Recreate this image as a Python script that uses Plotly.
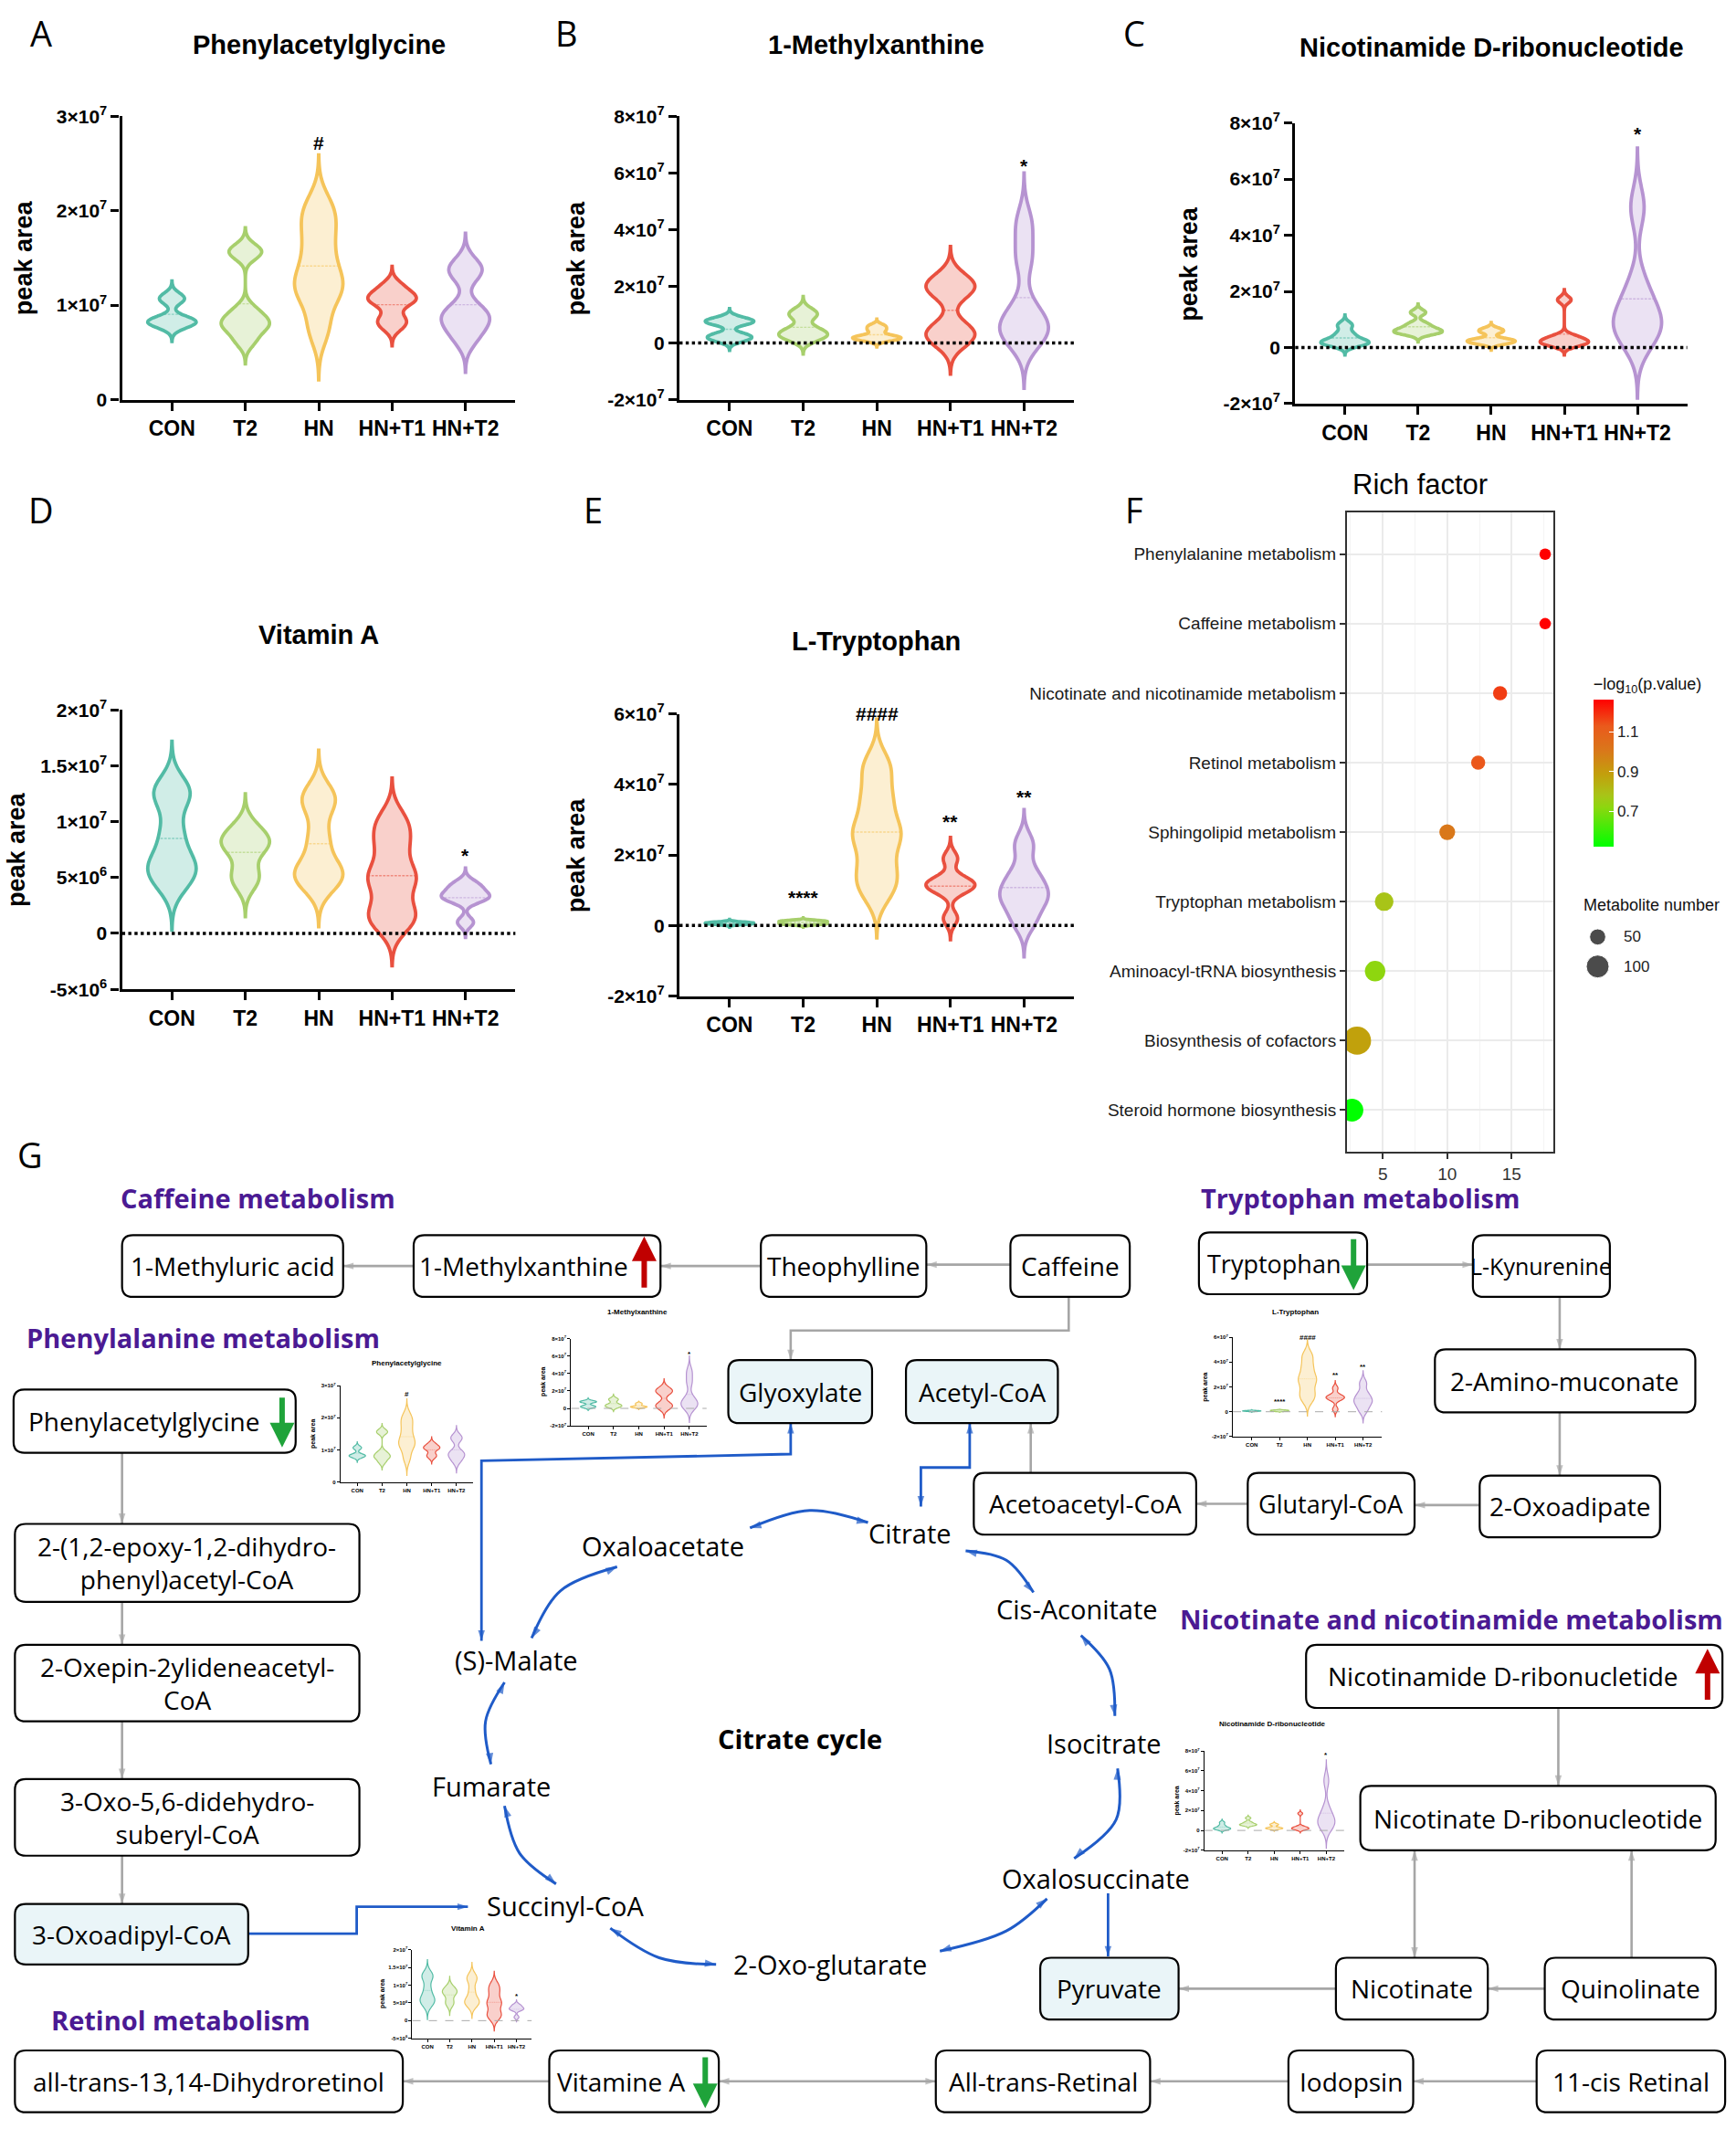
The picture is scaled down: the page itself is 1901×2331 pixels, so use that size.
import numpy as np
import plotly.graph_objects as go

# ---------------------------------------------------------------- data
GROUPS = ["CON", "T2", "HN", "HN+T1", "HN+T2"]
UNIT = 1e7  # peak areas below are in units of 1e7

phenylacetylglycine = {
    "CON": [0.78, 0.82, 0.83, 0.85, 1.05, 1.09],
    "T2": [0.62, 0.75, 0.80, 0.85, 0.95, 1.55, 1.58],
    "HN": [0.75, 1.10, 1.20, 1.35, 1.60, 1.85, 2.05],
    "HN+T1": [0.78, 0.86, 1.02, 1.07, 1.10, 1.20],
    "HN+T2": [0.65, 0.80, 0.88, 0.95, 1.35, 1.40],
}
methylxanthine = {
    "CON": [0.10, 0.20, 0.30, 0.70, 0.75, 0.85],
    "T2": [0.15, 0.25, 0.35, 0.50, 0.95, 1.10],
    "HN": [0.10, 0.15, 0.20, 0.25, 0.45, 0.60],
    "HN+T1": [0.10, 0.30, 0.50, 1.80, 2.00, 2.20],
    "HN+T2": [0.20, 0.40, 0.60, 1.20, 3.00, 4.20],
}
nicotinamide_ribonucleotide = {
    "CON": [0.10, 0.15, 0.20, 0.30, 0.50, 0.80],
    "T2": [0.50, 0.55, 0.60, 0.70, 0.85, 1.25],
    "HN": [0.15, 0.20, 0.25, 0.30, 0.55, 0.65],
    "HN+T1": [0.10, 0.15, 0.20, 0.30, 0.40, 1.70],
    "HN+T2": [0.30, 0.60, 1.00, 1.30, 2.20, 5.00],
}
vitamin_a = {
    "CON": [0.45, 0.58, 0.65, 0.90, 1.22, 1.30],
    "T2": [0.45, 0.55, 0.75, 0.80, 0.85, 0.95],
    "HN": [0.45, 0.52, 0.60, 0.85, 1.15, 1.25],
    "HN+T1": [0.10, 0.20, 0.45, 0.55, 0.80, 1.00],
    "HN+T2": [0.10, 0.30, 0.32, 0.35, 0.40, 0.45],
}
tryptophan = {
    "CON": [0.03, 0.05, 0.06, 0.07, 0.08, 0.10],
    "T2": [0.03, 0.05, 0.07, 0.10, 0.12, 0.14],
    "HN": [1.00, 1.60, 2.40, 2.80, 3.60, 4.50],
    "HN+T1": [0.20, 1.00, 1.10, 1.20, 1.30, 1.90],
    "HN+T2": [0.10, 0.60, 0.85, 1.10, 1.50, 2.30],
}

# significance marks: (group, value in 1e7 units, label)
sig_phenyl = [("HN", 2.72, "#")]
sig_methyl = [("HN+T2", 6.25, "*")]
sig_nicotinamide = [("HN+T2", 7.6, "*")]
sig_vitamin = [("HN+T2", 0.70, "*")]
sig_tryptophan = [("T2", 0.80, "****"), ("HN", 6.0, "####"),
                  ("HN+T1", 2.95, "**"), ("HN+T2", 3.65, "**")]

# enrichment (panel F)
pathways = ["Phenylalanine metabolism", "Caffeine metabolism",
            "Nicotinate and nicotinamide metabolism", "Retinol metabolism",
            "Sphingolipid metabolism", "Tryptophan metabolism",
            "Aminoacyl-tRNA biosynthesis", "Biosynthesis of cofactors",
            "Steroid hormone biosynthesis"]
rich_factor = [17.6, 17.6, 14.1, 12.4, 10.0, 5.1, 4.4, 3.0, 2.6]
neg_log10_p = [1.26, 1.26, 1.17, 1.13, 1.00, 0.78, 0.72, 0.88, 0.52]
metabolite_number = [25, 25, 38, 38, 48, 66, 80, 150, 100]
size_legend_values = [50, 100]

# ---------------------------------------------------------------- styling
W, H = 1901, 2331
SW, SH = 1280.0, 1568.0          # sketch frame used for placement
FONT = "Liberation Sans"
DFONT = "Open Sans"
GROUP_COLORS = ["#52BBA5", "#A7CF6C", "#F5C45A", "#E9503F", "#B693D1"]

# kernel bandwidths (1e7 units) used to smooth each violin
BW = {
    "phenyl": {"CON": 0.055, "T2": 0.08, "HN": 0.18, "HN+T1": 0.07, "HN+T2": 0.12},
    "methyl": {"CON": 0.12, "T2": 0.18, "HN": 0.08, "HN+T1": 0.40, "HN+T2": 0.60},
    "nicot": {"CON": 0.12, "T2": 0.10, "HN": 0.08, "HN+T1": 0.12, "HN+T2": 0.70},
    "vita": {"CON": 0.14, "T2": 0.10, "HN": 0.13, "HN+T1": 0.13, "HN+T2": 0.045},
    "tryp": {"CON": 0.025, "T2": 0.025, "HN": 0.45, "HN+T1": 0.20, "HN+T2": 0.33},
}
TAIL = 3.0  # violins extend this many bandwidths past the extreme samples


def hexa(c, a):
    c = c.lstrip("#")
    return "rgba(%d,%d,%d,%s)" % (int(c[0:2], 16), int(c[2:4], 16), int(c[4:6], 16), a)


def an(i, k):
    return k if i == 1 else "%s%d" % (k, i)


def lk(i, k):
    return "%saxis" % k if i == 1 else "%saxis%d" % (k, i)


fig = go.Figure()
layout_axes = {}
annotations = []
shapes = []

BIG = dict(lw=3.8, ml=1.4, aw=3.4, tl=9, tick=21, cat=23, sig=21, zw=3.4, ylab=27)
SMALL = dict(lw=1.2, ml=0.6, aw=1.1, tl=3, tick=6, cat=6, sig=8, zw=1.0, ylab=7)


def paper_text(xs, ys, text, size, bold=False, angle=0, color="black", family=FONT):
    annotations.append(dict(x=xs / SW, y=1 - ys / SH, xref="paper", yref="paper",
                            xanchor="center", yanchor="middle", text=text,
                            textangle=angle, showarrow=False,
                            font=dict(family=family, size=size, color=color,
                                      weight="bold" if bold else "normal")))


def violin_panel(i, data, bw, sig, yr, tv, tt, box, st, zero, title, title_xy,
                 title_size, ylab_dx, zero_style="dot"):
    left, right, top, bottom = box
    for g, c in zip(GROUPS, GROUP_COLORS):
        vals = np.array(data[g]) * UNIT
        b = bw[g] * UNIT
        fig.add_trace(go.Violin(
            x=[g] * len(vals), y=vals, xaxis=an(i, "x"), yaxis=an(i, "y"),
            bandwidth=b, spanmode="manual",
            span=[vals.min() - TAIL * b, vals.max() + TAIL * b],
            points=False, width=0.66, scalemode="width",
            line=dict(color=c, width=st["lw"]), fillcolor=hexa(c, 0.27),
            meanline=dict(visible=True, color=hexa(c, 0.55), width=st["ml"]),
            showlegend=False, hoverinfo="skip"))
    layout_axes[lk(i, "x")] = dict(
        domain=[left / SW, right / SW], anchor=an(i, "y"), type="category",
        categoryorder="array", categoryarray=GROUPS, range=[-0.68, 4.68],
        showline=True, linewidth=st["aw"], linecolor="black", ticks="outside",
        ticklen=st["tl"], tickwidth=st["aw"], tickcolor="black",
        tickfont=dict(family=FONT, size=st["cat"], color="black", weight="bold"),
        showgrid=False, zeroline=False, fixedrange=True)
    layout_axes[lk(i, "y")] = dict(
        domain=[1 - bottom / SH, 1 - top / SH], anchor=an(i, "x"),
        range=[yr[0] * UNIT, yr[1] * UNIT], tickvals=[v * UNIT for v in tv],
        ticktext=tt, showline=True, linewidth=st["aw"], linecolor="black",
        ticks="outside", ticklen=st["tl"], tickwidth=st["aw"], tickcolor="black",
        tickfont=dict(family=FONT, size=st["tick"], color="black", weight="bold"),
        showgrid=False, zeroline=False, fixedrange=True)
    if zero:
        shapes.append(dict(type="line", xref=an(i, "x") + " domain", x0=0, x1=1,
                           yref=an(i, "y"), y0=0, y1=0, layer="above",
                           line=dict(color="black" if zero_style == "dot" else "#aaaaaa",
                                     width=st["zw"], dash=zero_style)))
    for g, v, t in sig:
        annotations.append(dict(x=g, y=v * UNIT, xref=an(i, "x"), yref=an(i, "y"),
                                text=t, showarrow=False, xanchor="center",
                                yanchor="middle",
                                font=dict(family=FONT, size=st["sig"], color="black",
                                          weight="bold")))
    paper_text(title_xy[0], title_xy[1], title, title_size, bold=True)
    paper_text(left - ylab_dx, (top + bottom) / 2, "peak area", st["ylab"], bold=True,
               angle=-90)


sup = lambda m, e: "%s×10<sup>%d</sup>" % (m, e)
TV_A, TT_A = [0, 1, 2, 3], ["0", sup(1, 7), sup(2, 7), sup(3, 7)]
TV_B = [-2, 0, 2, 4, 6, 8]
TT_B = [sup("-2", 7), "0", sup(2, 7), sup(4, 7), sup(6, 7), sup(8, 7)]
TV_D = [-0.5, 0, 0.5, 1.0, 1.5, 2.0]
TT_D = [sup("-5", 6), "0", sup(5, 6), sup(1, 7), sup(1.5, 7), sup(2, 7)]
TV_E = [-2, 0, 2, 4, 6]
TT_E = [sup("-2", 7), "0", sup(2, 7), sup(4, 7), sup(6, 7)]

# main violin panels
violin_panel(1, phenylacetylglycine, BW["phenyl"], sig_phenyl, [0, 3], TV_A, TT_A,
             (90, 380, 77, 288), BIG, False, "Phenylacetylglycine", (235, 24), 29, 72)
violin_panel(2, methylxanthine, BW["methyl"], sig_methyl, [-2, 8], TV_B, TT_B,
             (501, 792, 77, 288), BIG, True, "1-Methylxanthine", (646, 24), 29, 76)
violin_panel(3, nicotinamide_ribonucleotide, BW["nicot"], sig_nicotinamide, [-2, 8],
             TV_B, TT_B, (955, 1244, 82, 291), BIG, True,
             "Nicotinamide D-ribonucleotide", (1100, 26), 29, 78)
violin_panel(4, vitamin_a, BW["vita"], sig_vitamin, [-0.5, 2.0], TV_D, TT_D,
             (90, 380, 519, 727), BIG, True, "Vitamin A", (235, 463), 29, 78)
violin_panel(5, tryptophan, BW["tryp"], sig_tryptophan, [-2, 6], TV_E, TT_E,
             (501, 792, 522, 732), BIG, True, "L-Tryptophan", (646, 468), 29, 76)

# insets inside pathway map
violin_panel(7, phenylacetylglycine, BW["phenyl"], sig_phenyl, [0, 3], TV_A, TT_A,
             (251, 349, 1022, 1094), SMALL, False, "Phenylacetylglycine", (300, 1005), 8, 20)
violin_panel(8, methylxanthine, BW["methyl"], sig_methyl, [-2, 8], TV_B, TT_B,
             (421, 521, 987, 1052), SMALL, True, "1-Methylxanthine", (470, 967), 8, 20,
             "dash")
violin_panel(9, nicotinamide_ribonucleotide, BW["nicot"], sig_nicotinamide, [-2, 8],
             TV_B, TT_B, (888, 991, 1294, 1368), SMALL, True,
             "Nicotinamide D-ribonucleotide", (938, 1274), 8, 20, "dash")
violin_panel(10, vitamin_a, BW["vita"], sig_vitamin, [-0.5, 2.0], TV_D, TT_D,
             (304, 392, 1442, 1508), SMALL, True, "Vitamin A", (345, 1426), 8, 22, "dash")
violin_panel(11, tryptophan, BW["tryp"], sig_tryptophan, [-2, 6], TV_E, TT_E,
             (909, 1019, 986, 1060), SMALL, True, "L-Tryptophan", (955, 967), 8, 20, "dash")

# ---------------------------------------------------------------- panel F
CMIN, CMAX = 0.52, 1.26
CSCALE = [[0.0, "#00FF00"], [0.27, "#8ED60F"], [0.35, "#A8C418"], [0.49, "#C2A00C"],
          [0.65, "#D9781A"], [0.82, "#EA5A1C"], [1.0, "#FF0000"]]
SIZE_K = 2.5
fig.add_trace(go.Scatter(
    x=rich_factor, y=pathways, xaxis="x6", yaxis="y6", mode="markers",
    marker=dict(size=SIZE_K * np.sqrt(metabolite_number), color=neg_log10_p,
                colorscale=CSCALE, cmin=CMIN, cmax=CMAX, line=dict(width=0), opacity=1,
                colorbar=dict(x=1168 / SW, xanchor="left", y=1 - 557 / SH,
                              yanchor="middle", len=142 / SH, lenmode="fraction",
                              thickness=22, outlinewidth=0, tickvals=[0.7, 0.9, 1.1],
                              ticks="inside", ticklen=5, tickcolor="white",
                              tickfont=dict(family=FONT, size=17, color="#222"),
                              title=dict(text="−log<sub>10</sub>(p.value)", side="top",
                                         font=dict(family=FONT, size=18, color="#111")))),
    showlegend=False, hoverinfo="skip"))
layout_axes["xaxis6"] = dict(
    domain=[993 / SW, 1145 / SW], anchor="y6", range=[2.2, 18.2], tickvals=[5, 10, 15],
    showgrid=True, gridcolor="#EBEBEB", gridwidth=1.5,
    minor=dict(tickvals=[2.5, 7.5, 12.5, 17.5], showgrid=True, gridcolor="#F4F4F4",
               gridwidth=1),
    ticks="outside", ticklen=6, tickwidth=1.5, tickcolor="#333",
    tickfont=dict(family=FONT, size=19, color="#333"), showline=True, mirror=True,
    linecolor="#333", linewidth=1.5, zeroline=False, fixedrange=True)
layout_axes["yaxis6"] = dict(
    domain=[1 - 848 / SH, 1 - 372 / SH], anchor="x6", type="category",
    categoryorder="array", categoryarray=pathways, range=[8.6, -0.6],
    showgrid=True, gridcolor="#EBEBEB", gridwidth=1.5, ticks="outside", ticklen=6,
    tickwidth=1.5, tickcolor="#333", tickfont=dict(family=FONT, size=19, color="#1a1a1a"),
    showline=True, mirror=True, linecolor="#333", linewidth=1.5, zeroline=False,
    fixedrange=True)
paper_text(1047, 351, "Rich factor", 31)

# ---------------------------------------------------------------- panel G (map)
DX, DY = "x12", "y12"
layout_axes["xaxis12"] = dict(domain=[0, 1], anchor="y12", range=[0, SW], visible=False,
                              fixedrange=True)
layout_axes["yaxis12"] = dict(domain=[0, 1], anchor="x12", range=[SH, 0], visible=False,
                              fixedrange=True)


def map_text(xx, yy, text, size, color="black", bold=False, family=DFONT, xanchor="center"):
    annotations.append(dict(x=xx, y=yy, xref=DX, yref=DY, text=text, showarrow=False,
                            xanchor=xanchor, yanchor="middle",
                            font=dict(family=family, size=size, color=color,
                                      weight="bold" if bold else "normal")))


# size legend for F
fig.add_trace(go.Scatter(x=[1178, 1178], y=[688, 710], xaxis=DX, yaxis=DY, mode="markers",
                         marker=dict(size=SIZE_K * np.sqrt(size_legend_values), color="black"),
                         showlegend=False, hoverinfo="skip"))
for v, yy in zip(size_legend_values, [688, 710]):
    map_text(1196, yy, str(v), 17, color="#222", family=FONT, xanchor="left")
map_text(1166, 664, "Metabolite number", 18, color="#111", family=FONT, xanchor="left")

# panel letters
for letter, xx, yy in [("A", 30, 18), ("B", 418, 18), ("C", 836, 18), ("D", 30, 373),
                       ("E", 437, 373), ("F", 836, 373), ("G", 22, 853)]:
    map_text(xx, yy - 3, letter, 38)

PURPLE = "#4B1A93"
for txt, xx, yy in [("Caffeine metabolism", 190, 882), ("Tryptophan metabolism", 1003, 882),
                    ("Phenylalanine metabolism", 150, 986),
                    ("Nicotinate and nicotinamide metabolism", 1070, 1196),
                    ("Retinol metabolism", 133, 1494)]:
    map_text(xx, yy, txt, 29, color=PURPLE, bold=True)

LB = "#EAF5F8"
boxes = [
    ("1-Methyluric acid", 90, 910, 253, 956, "white", None, 28),
    ("1-Methylxanthine", 305, 910, 487, 956, "white", 386, 28),
    ("Theophylline", 561, 910, 683, 956, "white", None, 28),
    ("Caffeine", 745, 910, 833, 956, "white", None, 28),
    ("Tryptophan", 884, 908, 1008, 954, "white", 939, 27),
    ("L-Kynurenine", 1086, 910, 1187, 956, "white", None, 25),
    ("Glyoxylate", 537, 1003, 643, 1050, LB, None, 28),
    ("Acetyl-CoA", 668, 1003, 780, 1050, LB, None, 28),
    ("Phenylacetylglycine", 10, 1025, 218, 1072, "white", 106, 28),
    ("2-Amino-muconate", 1058, 995, 1250, 1042, "white", None, 28),
    ("Acetoacetyl-CoA", 718, 1087, 882, 1133, "white", None, 28),
    ("Glutaryl-CoA", 920, 1087, 1043, 1133, "white", None, 27),
    ("2-Oxoadipate", 1091, 1089, 1224, 1135, "white", None, 28),
    ("2-(1,2-epoxy-1,2-dihydro-<br>phenyl)acetyl-CoA", 11, 1125, 265, 1183, "white", None, 28),
    ("2-Oxepin-2ylideneacetyl-<br>CoA", 11, 1215, 265, 1272, "white", None, 28),
    ("3-Oxo-5,6-didehydro-<br>suberyl-CoA", 11, 1315, 265, 1372, "white", None, 28),
    ("3-Oxoadipyl-CoA", 11, 1408, 183, 1453, LB, None, 28),
    ("Nicotinamide D-ribonucletide", 963, 1215, 1270, 1262, "white", 1108, 28),
    ("Nicotinate D-ribonucleotide", 1003, 1320, 1265, 1368, "white", None, 28),
    ("Nicotinate", 985, 1448, 1097, 1494, "white", None, 28),
    ("Quinolinate", 1139, 1448, 1265, 1494, "white", None, 28),
    ("Pyruvate", 767, 1448, 869, 1494, LB, None, 28),
    ("all-trans-13,14-Dihydroretinol", 11, 1517, 297, 1563, "white", None, 28),
    ("Vitamine A", 405, 1517, 530, 1563, "white", 458, 28),
    ("All-trans-Retinal", 690, 1517, 848, 1563, "white", None, 28),
    ("Iodopsin", 950, 1517, 1042, 1563, "white", None, 28),
    ("11-cis Retinal", 1133, 1517, 1272, 1563, "white", None, 28),
]
R = 8
for label, x0, y0, x1, y1, fill, tx, fs in boxes:
    path = ("M%s,%s L%s,%s Q%s,%s %s,%s L%s,%s Q%s,%s %s,%s L%s,%s Q%s,%s %s,%s "
            "L%s,%s Q%s,%s %s,%s Z") % (
        x0 + R, y0, x1 - R, y0, x1, y0, x1, y0 + R, x1, y1 - R, x1, y1, x1 - R, y1,
        x0 + R, y1, x0, y1, x0, y1 - R, x0, y0 + R, x0, y0, x0 + R, y0)
    shapes.append(dict(type="path", path=path, xref=DX, yref=DY, layer="above",
                       line=dict(color="black", width=2.2), fillcolor=fill))
    map_text(tx if tx else (x0 + x1) / 2, (y0 + y1) / 2, label, fs)

for txt, xx, yy, bold in [("Oxaloacetate", 489, 1141, False), ("Citrate", 671, 1132, False),
                          ("Cis-Aconitate", 794, 1188, False), ("(S)-Malate", 381, 1226, False),
                          ("Isocitrate", 814, 1288, False), ("Citrate cycle", 590, 1285, True),
                          ("Fumarate", 362, 1320, False), ("Oxalosuccinate", 808, 1389, False),
                          ("Succinyl-CoA", 417, 1409, False), ("2-Oxo-glutarate", 612, 1453, False)]:
    map_text(xx, yy, txt, 29, bold=bold)

GREY, BLUE = "#A6A6A6", "#1F5BC8"


def head(tail, tip, color, size):
    fig.add_trace(go.Scatter(x=[tail[0], tip[0]], y=[tail[1], tip[1]], xaxis=DX, yaxis=DY,
                             mode="markers",
                             marker=dict(symbol="arrow", size=[0, size], color=color,
                                         angleref="previous", line=dict(width=0)),
                             showlegend=False, hoverinfo="skip"))


def connector(pts, color, w, both=False, spline=False, hs=11):
    fig.add_trace(go.Scatter(x=[p[0] for p in pts], y=[p[1] for p in pts], xaxis=DX,
                             yaxis=DY, mode="lines",
                             line=dict(color=color, width=w,
                                       shape="spline" if spline else "linear"),
                             showlegend=False, hoverinfo="skip"))
    head(pts[-2], pts[-1], color, hs)
    if both:
        head(pts[1], pts[0], color, hs)


grey_links = [
    ([(561, 933), (487, 933)], False), ([(305, 933), (253, 933)], False),
    ([(745, 932), (683, 932)], False),
    ([(788, 956), (788, 981), (583, 981), (583, 1003)], False),
    ([(1008, 932), (1086, 932)], False), ([(1150, 956), (1150, 995)], False),
    ([(1150, 1042), (1150, 1089)], False), ([(1091, 1111), (1043, 1111)], False),
    ([(920, 1110), (882, 1110)], False), ([(760, 1087), (760, 1050)], False),
    ([(90, 1072), (90, 1125)], False), ([(90, 1183), (90, 1215)], False),
    ([(90, 1272), (90, 1315)], False), ([(90, 1372), (90, 1408)], False),
    ([(1149, 1262), (1149, 1320)], False), ([(1043, 1448), (1043, 1368)], True),
    ([(1203, 1448), (1203, 1368)], False), ([(1139, 1471), (1097, 1471)], False),
    ([(985, 1471), (869, 1471)], False), ([(1133, 1540), (1042, 1540)], False),
    ([(950, 1540), (848, 1540)], False), ([(690, 1540), (530, 1540)], True),
    ([(405, 1540), (297, 1540)], False),
]
for pts, both in grey_links:
    connector(pts, GREY, 2.6, both, hs=12)

blue_links = [
    ([(583, 1050), (583, 1073), (355, 1078), (355, 1212)], True),
    ([(715, 1050), (715, 1083), (679, 1083), (679, 1112)], True),
    ([(183, 1430), (263, 1430), (263, 1410), (345, 1410)], False),
    ([(817, 1400), (817, 1447)], False),
]
for pts, both in blue_links:
    connector(pts, BLUE, 2.8, both, hs=12)

cycle_arcs = [
    [(553, 1128), (597, 1115), (640, 1124)],
    [(712, 1145), (742, 1152), (762, 1176)],
    [(797, 1208), (818, 1233), (822, 1268)],
    [(824, 1307), (823, 1345), (792, 1374)],
    [(772, 1404), (742, 1428), (693, 1443)],
    [(528, 1453), (486, 1448), (450, 1426)],
    [(410, 1393), (383, 1370), (372, 1335)],
    [(362, 1304), (358, 1272), (372, 1243)],
    [(392, 1210), (413, 1175), (455, 1157)],
]
for arc in cycle_arcs:
    connector(arc, BLUE, 3.0, both=True, spline=True, hs=13)

# up / down regulation markers
RED, GREEN = "#C00000", "#1FA33A"
for (xx, y_tail, y_tip, col) in [(475, 950, 911, RED), (998, 912, 951, GREEN),
                                 (208, 1030, 1068, GREEN), (1259, 1257, 1218, RED),
                                 (520, 1521, 1560, GREEN)]:
    annotations.append(dict(x=xx, y=y_tip, ax=xx, ay=y_tail, xref=DX, yref=DY, axref=DX,
                            ayref=DY, text="", showarrow=True, arrowhead=2, arrowsize=0.9,
                            arrowwidth=6, arrowcolor=col, standoff=0))

fig.update_layout(
    width=W, height=H, autosize=False, margin=dict(l=0, r=0, t=0, b=0),
    paper_bgcolor="white", plot_bgcolor="rgba(0,0,0,0)", violinmode="overlay",
    showlegend=False, annotations=annotations, shapes=shapes,
    font=dict(family=FONT, color="black"), **layout_axes)

# pin the figure to the page's top-left corner (no default body margin)
PIN = ("document.body.style.margin='0';document.body.style.overflow='hidden';"
       "var d=document.getElementById('{plot_id}');d.style.position='absolute';"
       "d.style.left='0px';d.style.top='0px';")
fig.write_html("out.html", post_script=PIN, config={"displayModeBar": False})
